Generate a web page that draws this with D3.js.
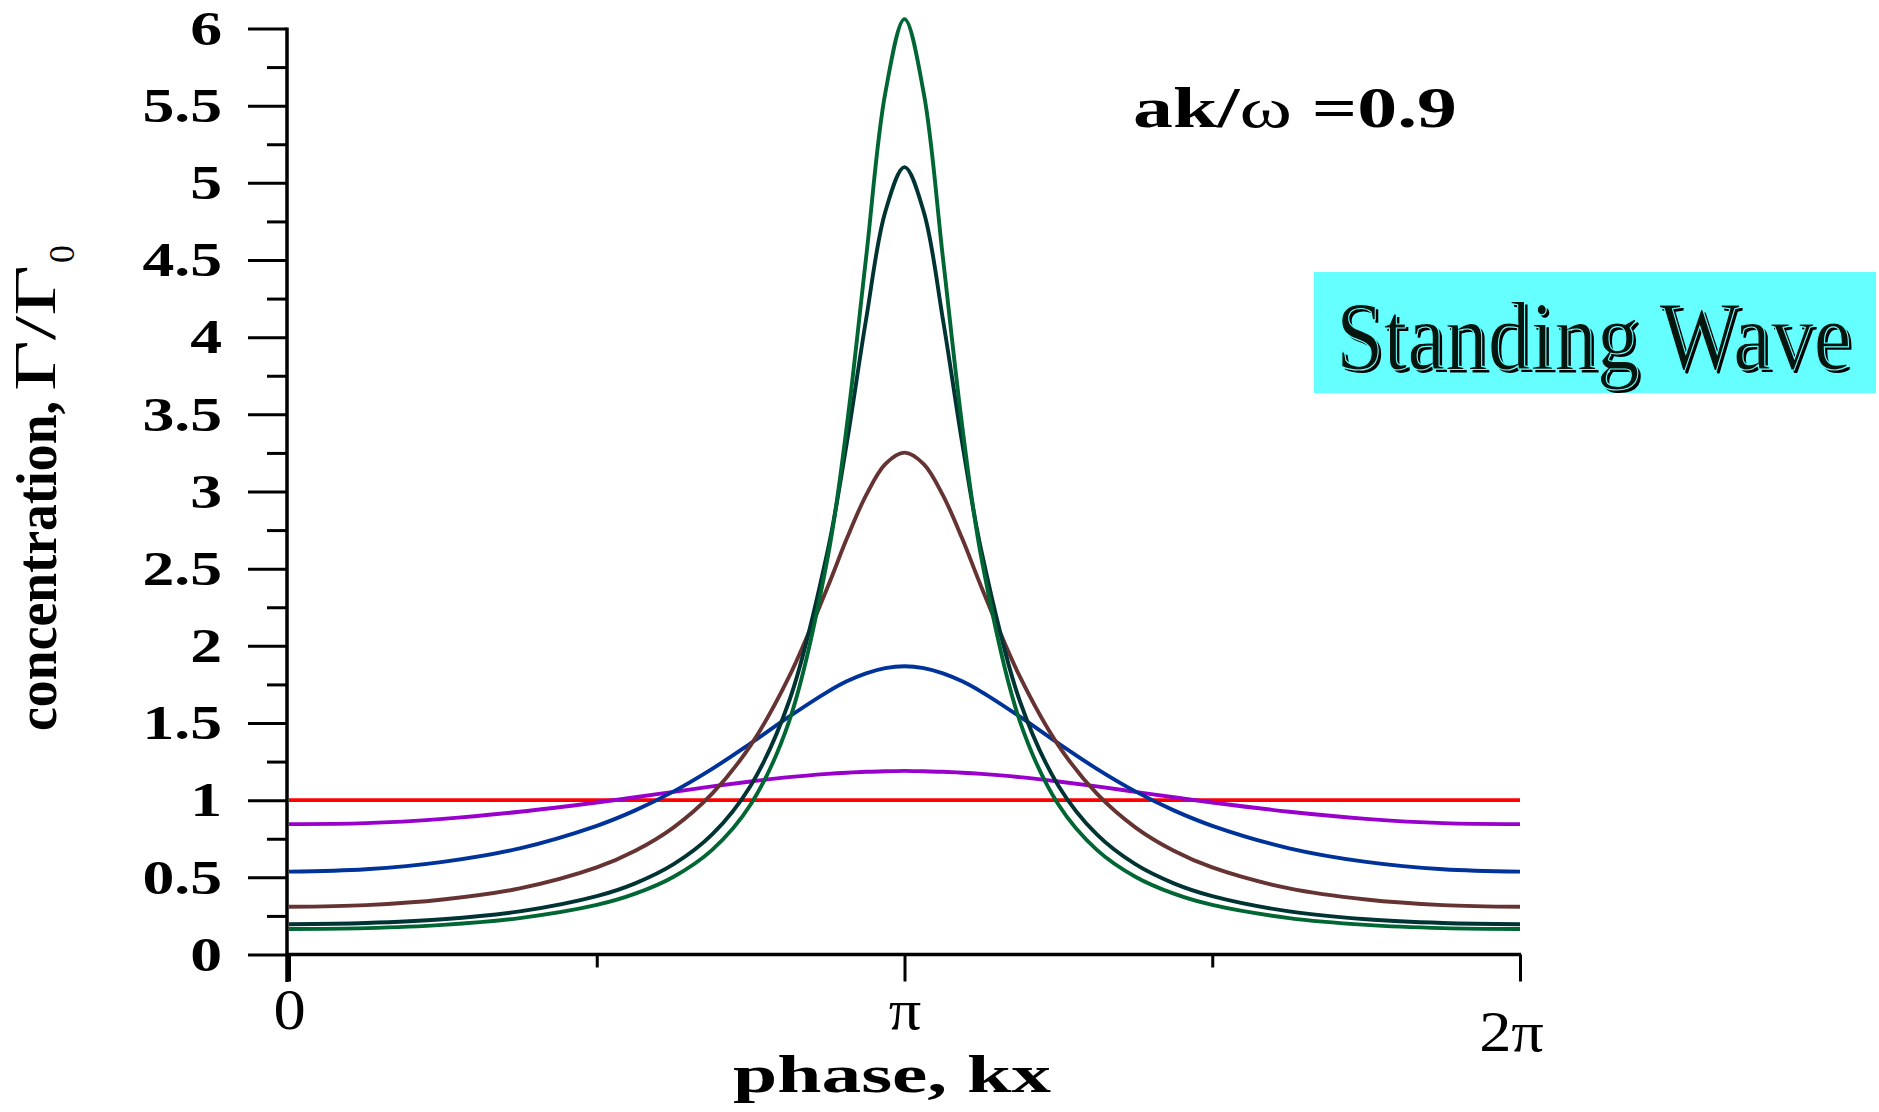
<!DOCTYPE html>
<html>
<head>
<meta charset="utf-8">
<script src="https://cdnjs.cloudflare.com/ajax/libs/d3/7.8.5/d3.min.js"></script>
<style>
  body { margin: 0; background: #fff; }
  text { font-family: "Liberation Serif", "Times New Roman", serif; }
</style>
</head>
<body>
<svg id="chart" width="1879" height="1112"></svg>
<script>
'use strict';

// phase kx, in units of pi
var phase = [0, 0.125, 0.25, 0.375, 0.5, 0.5625, 0.625, 0.6875, 0.75, 0.8125, 0.875, 0.90625, 0.9375, 0.96875, 1,
             1.03125, 1.0625, 1.09375, 1.125, 1.1875, 1.25, 1.3125, 1.375, 1.4375, 1.5, 1.625, 1.75, 1.875, 2];

// concentration, one array per curve
var redLevel    = [1, 1];
var redPhase    = [0, 2];
var purpleCurve = [0.845, 0.851, 0.879, 0.925, 0.985, 1.019, 1.054, 1.089, 1.121, 1.149, 1.170, 1.178, 1.184, 1.187, 1.190,
                   1.187, 1.184, 1.178, 1.170, 1.149, 1.121, 1.089, 1.054, 1.019, 0.985, 0.925, 0.879, 0.851, 0.845];
var blueCurve   = [0.537, 0.552, 0.600, 0.688, 0.834, 0.934, 1.057, 1.203, 1.368, 1.541, 1.702, 1.770, 1.822, 1.856, 1.868,
                   1.856, 1.822, 1.770, 1.702, 1.541, 1.368, 1.203, 1.057, 0.934, 0.834, 0.688, 0.600, 0.552, 0.537];
var brownCurve  = [0.309, 0.320, 0.356, 0.428, 0.564, 0.672, 0.824, 1.042, 1.355, 1.800, 2.380, 2.695, 2.975, 3.178, 3.252,
                   3.178, 2.975, 2.695, 2.380, 1.800, 1.355, 1.042, 0.824, 0.672, 0.564, 0.428, 0.356, 0.320, 0.309];
var tealCurve   = [0.196, 0.204, 0.228, 0.279, 0.378, 0.461, 0.585, 0.778, 1.094, 1.641, 2.613, 3.315, 4.113, 4.812, 5.102,
                   4.812, 4.113, 3.315, 2.613, 1.641, 1.094, 0.778, 0.585, 0.461, 0.378, 0.279, 0.228, 0.204, 0.196];
var greenCurve  = [0.165, 0.171, 0.192, 0.236, 0.321, 0.394, 0.504, 0.678, 0.972, 1.511, 2.568, 3.425, 4.512, 5.581, 6.061,
                   5.581, 4.512, 3.425, 2.568, 1.511, 0.972, 0.678, 0.504, 0.394, 0.321, 0.236, 0.192, 0.171, 0.165];

var yMajor = [0, 0.5, 1, 1.5, 2, 2.5, 3, 3.5, 4, 4.5, 5, 5.5, 6];
var yTickLabels = ['0', '0.5', '1', '1.5', '2', '2.5', '3', '3.5', '4', '4.5', '5', '5.5', '6'];
var yMinor = [0.25, 0.75, 1.25, 1.75, 2.25, 2.75, 3.25, 3.75, 4.25, 4.75, 5.25, 5.75];
var xMajor = [0, 1, 2];
var xTickLabels = ['0', '\u03c0', '2\u03c0'];
var xMinor = [0.5, 1.5];

var svg = d3.select('#chart');
var axisX = 287;
var x = d3.scaleLinear().domain([0, 2]).range([289, 1520]);
var y = d3.scaleLinear().domain([0, 6]).range([954.5, 28.5]);

function stretch(sel, k) {
  sel.each(function() {
    var w = this.getComputedTextLength();
    d3.select(this).attr('textLength', w * k).attr('lengthAdjust', 'spacingAndGlyphs');
  });
}

// curves
var line = d3.line()
  .x(function(d) { return x(d[0]); })
  .y(function(d) { return y(d[1]); })
  .curve(d3.curveCatmullRom.alpha(0.5));

var series = [
  {color: '#ff0000', pts: d3.zip(redPhase, redLevel)},
  {color: '#9900cc', pts: d3.zip(phase, purpleCurve)},
  {color: '#003399', pts: d3.zip(phase, blueCurve)},
  {color: '#663333', pts: d3.zip(phase, brownCurve)},
  {color: '#003333', pts: d3.zip(phase, tealCurve)},
  {color: '#006633', pts: d3.zip(phase, greenCurve)}
];

svg.selectAll('path.curve')
  .data(series)
  .enter().append('path')
  .attr('class', 'curve')
  .attr('d', function(d) { return line(d.pts); })
  .attr('fill', 'none')
  .attr('stroke', function(d) { return d.color; })
  .attr('stroke-width', 3.9);

// y axis
var gy = svg.append('g').attr('transform', 'translate(' + axisX + ',0)');
gy.call(d3.axisLeft(y).tickValues(yMajor).tickSize(39).tickPadding(26)
  .tickFormat(function(d, i) { return yTickLabels[i]; }));
gy.select('.domain').remove();
gy.attr('font-family', null).attr('font-size', null);
gy.selectAll('line').attr('stroke', '#000').attr('stroke-width', 3);
gy.selectAll('text').attr('fill', '#000').attr('font-size', 49).attr('font-weight', 'bold');
stretch(gy.selectAll('text'), 1.3);

var gym = svg.append('g').attr('transform', 'translate(' + axisX + ',0)');
gym.call(d3.axisLeft(y).tickValues(yMinor).tickSize(20).tickFormat(''));
gym.select('.domain').remove();
gym.selectAll('line').attr('stroke', '#000').attr('stroke-width', 3);

// x axis
var gx = svg.append('g').attr('transform', 'translate(0,' + y(0) + ')');
gx.call(d3.axisBottom(x).tickValues(xMajor).tickSize(27).tickPadding(8)
  .tickFormat(function(d, i) { return xTickLabels[i]; }));
gx.select('.domain').remove();
gx.attr('font-family', null).attr('font-size', null);
gx.selectAll('line').attr('stroke', '#000').attr('stroke-width', 3);
gx.selectAll('text').attr('fill', '#000').attr('font-size', 56);
gx.selectAll('text').filter(function(d) { return d === 2; }).attr('dx', -9).attr('dy', '1.1em');
stretch(gx.selectAll('text'), 1.15);

var gxm = svg.append('g').attr('transform', 'translate(0,' + y(0) + ')');
gxm.call(d3.axisBottom(x).tickValues(xMinor).tickSize(13).tickFormat(''));
gxm.select('.domain').remove();
gxm.selectAll('line').attr('stroke', '#000').attr('stroke-width', 3);

// axis lines
svg.append('line').attr('x1', axisX).attr('x2', axisX).attr('y1', y(6) - 1).attr('y2', 982)
  .attr('stroke', '#000').attr('stroke-width', 3.5);
svg.append('line').attr('x1', axisX).attr('x2', x(2) + 1).attr('y1', y(0)).attr('y2', y(0))
  .attr('stroke', '#000').attr('stroke-width', 3.5);

// axis titles
svg.append('text')
  .attr('x', 892).attr('y', 1092)
  .attr('text-anchor', 'middle')
  .attr('font-size', 52).attr('font-weight', 'bold')
  .attr('textLength', 318).attr('lengthAdjust', 'spacingAndGlyphs')
  .text('phase, kx');

var yt = svg.append('g').attr('transform', 'translate(56,731) rotate(-90)');
yt.append('text')
  .attr('x', 0).attr('y', 0)
  .attr('font-size', 58).attr('font-weight', 'bold')
  .attr('textLength', 330).attr('lengthAdjust', 'spacingAndGlyphs')
  .text('concentration,');
yt.append('text')
  .attr('x', 340).attr('y', -1)
  .attr('font-size', 60)
  .attr('textLength', 126).attr('lengthAdjust', 'spacingAndGlyphs')
  .text('\u0393/\u0393');
yt.append('text')
  .attr('x', 468).attr('y', 18)
  .attr('font-size', 36)
  .text('0');

// parameter label
var hdr = svg.append('text')
  .attr('x', 1133).attr('y', 127)
  .attr('font-size', 56).attr('font-weight', 'bold')
  .attr('textLength', 324).attr('lengthAdjust', 'spacingAndGlyphs');
hdr.append('tspan').text('ak/');
hdr.append('tspan').attr('font-weight', 'normal').text('\u03c9');
hdr.append('tspan').text(' =0.9');

// Standing Wave box
svg.append('rect')
  .attr('x', 1314).attr('y', 272).attr('width', 562).attr('height', 121)
  .attr('fill', '#66ffff');
svg.append('text')
  .attr('transform', 'translate(1339,372) scale(0.88,1)')
  .attr('font-size', 97)
  .attr('fill', '#000')
  .text('Standing Wave');
svg.append('text')
  .attr('transform', 'translate(1336,369) scale(0.88,1)')
  .attr('font-size', 97)
  .attr('fill', '#06150e')
  .attr('stroke', '#66ffff').attr('stroke-width', 1.2)
  .text('Standing Wave');
</script>
</body>
</html>
